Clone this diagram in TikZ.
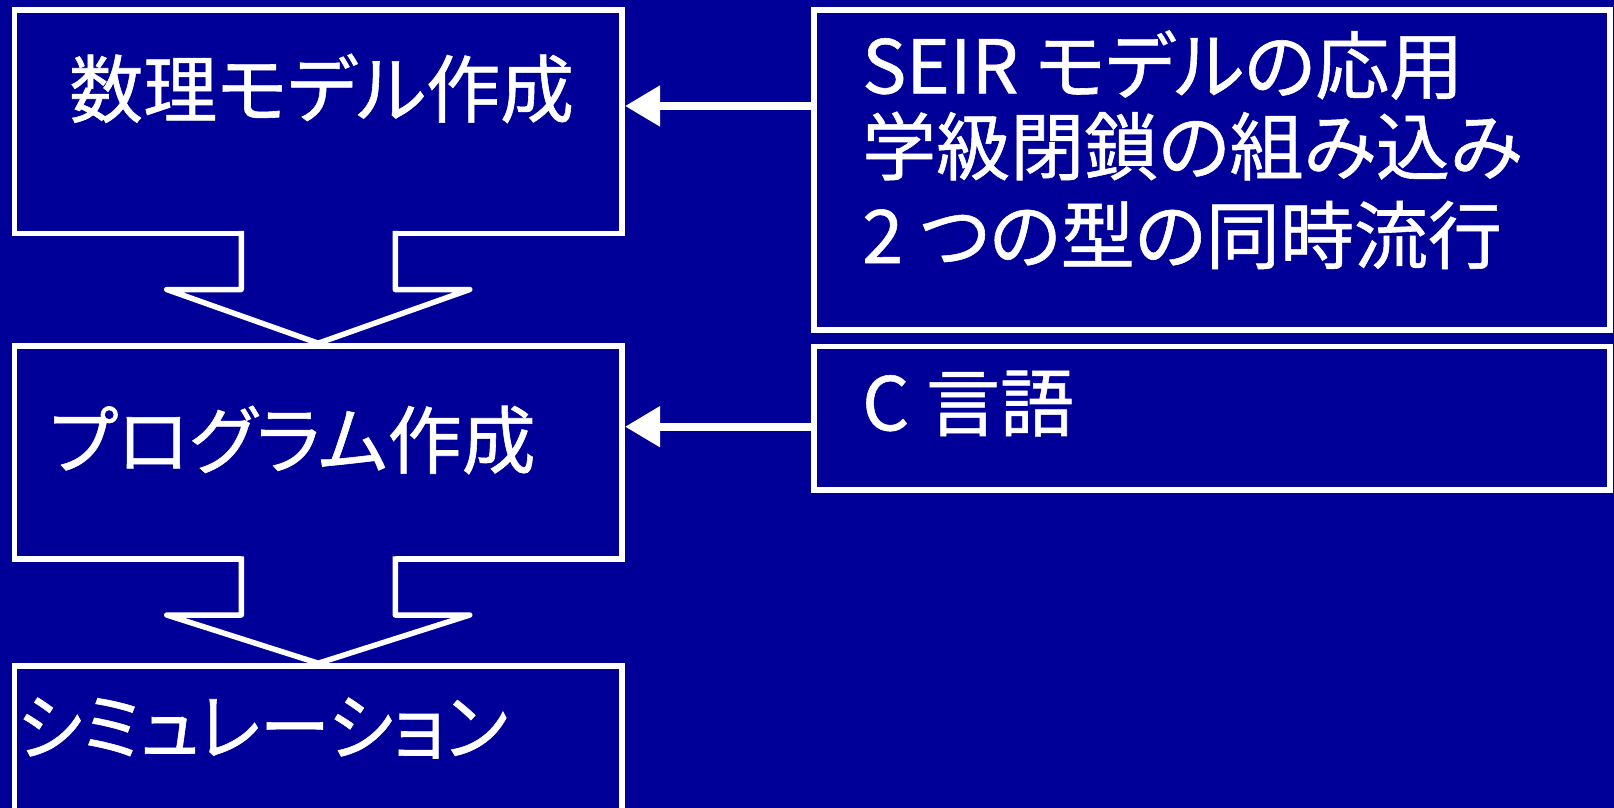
\documentclass[tikz,border=0pt]{standalone}
\usepackage{fontspec}
\newfontfamily\jpfont{Noto Sans CJK JP}[RawFeature={+palt},FakeBold=0.8]
\usetikzlibrary{arrows.meta,calc}
\definecolor{bg}{HTML}{000099}
\begin{document}
\begin{tikzpicture}[x=1pt,y=-1pt,
  box/.style={draw=white,line width=5.5pt,rectangle,inner sep=0pt,outer sep=0pt},
  label/.style={text=white,inner sep=0pt,anchor=west,font=\jpfont\fontsize{74}{80}\selectfont},
  fatarrow/.style={draw=white,line width=5.5pt,line join=round},
  thinarrow/.style={draw=white,line width=8pt,-{Triangle[length=35pt,width=39pt]}}]
\fill[bg] (0,0) rectangle (1614,808);
\clip (0,0) rectangle (1614,808);
% left column boxes
\node[box,minimum width=607.5pt,minimum height=223.5pt] (b1) at (318.25,121.75) {};
\node[box,minimum width=607.5pt,minimum height=213pt] (b2) at (318.25,452.5) {};
\node[box,minimum width=607.5pt,minimum height=260pt] (b3) at (318.25,796) {};
% right column boxes
\node[box,minimum width=796pt,minimum height=320pt] (r1) at (1212,170) {};
\node[box,minimum width=796pt,minimum height=143.3pt] (r2) at (1212,418.35) {};
% texts
\node[label] (t1) at (69,88.5) {数理モデル作成};
\node[label] (t2) at (49,440) {プログラム作成};
\node[label,xscale=0.95] (t3) at (17,728) {シミュレーション};
\node[label] (s1) at (862,65) {SEIR モデルの応用};
\node[label] (s2) at (862,146) {学級閉鎖の組み込み};
\node[label] (s3) at (862,235) {2 つの型の同時流行};
\node[label] (c1) at (862,403.5) {C 言語};
% fat arrows
\foreach \a/\b in {b1/b2,b2/b3}{
  \fill[bg] ($(\a.south)+(-77,-3)$) -- ($(\a.south)+(-77,56)$) -- ($(\a.south)+(-151.5,56)$)
     -- ($(\b.north)+(0,-2.75)$) -- ($(\a.south)+(151.5,56)$) -- ($(\a.south)+(77,56)$)
     -- ($(\a.south)+(77,-3)$) -- cycle;
  \draw[fatarrow] ($(\a.south)+(-77,-2.75)$) -- ($(\a.south)+(-77,56)$) -- ($(\a.south)+(-151.5,56)$)
     -- ($(\b.north)+(0,-2.75)$) -- ($(\a.south)+(151.5,56)$) -- ($(\a.south)+(77,56)$)
     -- ($(\a.south)+(77,-2.75)$);
}
% thin arrows
\draw[thinarrow] (r1.west |- 0,106) -- ($(b1.east |- 0,106)+(3,0)$);
\draw[thinarrow] (r2.west |- 0,426.7) -- ($(b2.east |- 0,426.7)+(3,0)$);
\end{tikzpicture}
\end{document}
